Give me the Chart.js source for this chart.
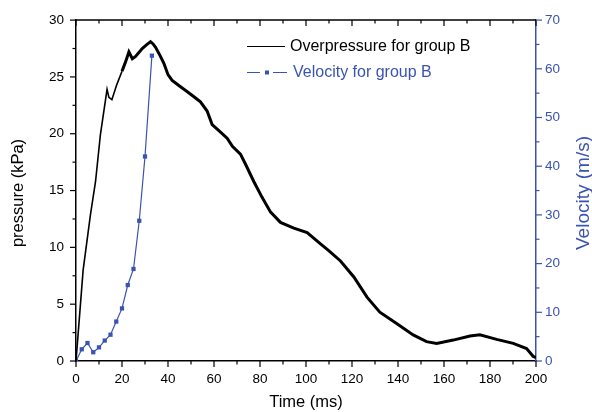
<!DOCTYPE html>
<html>
<head>
<meta charset="utf-8">
<script src="https://cdn.jsdelivr.net/npm/chart.js@4"></script>
<style>
  html, body { margin: 0; padding: 0; background: #fff; }
  #wrap { width: 592px; height: 412px; }
</style>
</head>
<body>
<div id="wrap"><canvas id="chart" width="592" height="412"></canvas></div>
<script>
// ── Data ──────────────────────────────────────────────────────
const pressureTime = [0, 3.1, 6.3, 8.5, 10.6, 13.5, 14.3, 15.6, 17.7, 20, 21.5, 23, 24.5, 25.9, 28.8, 30.5,
  32.4, 33.5, 34.6, 36.5, 38.2, 40, 41.8, 45, 48.4, 51, 54.1, 57, 59.2, 62, 65.7, 68, 71.5, 73.5, 77.3,
  80.9, 84.6, 88.9, 94.7, 100.5, 106.3, 110, 115, 120.8, 126.6, 132.1, 139.4, 146.6, 152.4, 156.8, 164,
  171.3, 175.6, 182.9, 190.1, 195.9, 198.8, 200];
const pressureKPa = [0, 8.0, 12.9, 15.8, 19.9, 23.9, 23.2, 23.0, 24.3, 25.5, 26.3, 27.2, 26.6, 26.8, 27.5, 27.8,
  28.1, 27.9, 27.6, 26.9, 26.2, 25.2, 24.7, 24.2, 23.7, 23.3, 22.8, 22.0, 20.8, 20.3, 19.6, 18.9, 18.2, 17.4, 15.8,
  14.4, 13.1, 12.2, 11.7, 11.3, 10.3, 9.7, 8.8, 7.4, 5.6, 4.3, 3.3, 2.3, 1.7, 1.55, 1.84,
  2.2, 2.3, 1.9, 1.55, 1.1, 0.4, 0.3];

const velocityTime = [0, 2.5, 5, 7.5, 10, 12.5, 15, 17.5, 20, 22.5, 25, 27.5, 30, 33];
const velocityMs   = [0, 2.4, 3.7, 1.8, 2.8, 4.2, 5.4, 8.1, 10.8, 15.6, 18.9, 28.8, 42.0, 62.7];

const legendLabels = ['Overpressure for group B', 'Velocity for group B'];
const axisTitles = { x: 'Time (ms)', y: 'pressure (kPa)', y2: 'Velocity (m/s)' };

// ── Style ─────────────────────────────────────────────────────
const BLUE = '#3a53b0';
const FONT = '"Liberation Sans", Arial, sans-serif';

const toXY = (xs, ys) => xs.map((x, i) => ({ x, y: ys[i] }));

// frame, major/minor ticks, rotated titles and legend
const decorations = {
  id: 'decorations',
  afterDraw(chart) {
    const { ctx, chartArea: a, scales } = chart;
    ctx.save();
    ctx.lineWidth = 1.5;
    ctx.strokeStyle = '#000';

    // top border
    ctx.beginPath();
    ctx.moveTo(a.left - 1, a.top);
    ctx.lineTo(a.right, a.top);
    ctx.stroke();

    ctx.lineWidth = 1.2;
    const x = scales.x;
    for (let v = 0; v <= 200; v += 10) {
      const px = x.getPixelForValue(v);
      const len = v % 20 === 0 ? 6 : 3.5;
      ctx.beginPath();
      ctx.moveTo(px, a.bottom); ctx.lineTo(px, a.bottom + len);
      ctx.moveTo(px, a.top); ctx.lineTo(px, a.top + len);
      ctx.stroke();
    }
    const y = scales.y;
    for (let v = 0; v <= 30; v += 2.5) {
      const py = y.getPixelForValue(v);
      const len = v % 5 === 0 ? 6 : 3.5;
      ctx.beginPath();
      ctx.moveTo(a.left, py); ctx.lineTo(a.left - len, py);
      ctx.stroke();
    }
    ctx.strokeStyle = BLUE;
    const y2 = scales.y2;
    for (let v = 0; v <= 70; v += 5) {
      const py = y2.getPixelForValue(v);
      const len = v % 10 === 0 ? 6 : 3.5;
      ctx.beginPath();
      ctx.moveTo(a.right, py); ctx.lineTo(a.right + len, py);
      ctx.stroke();
    }

    // vertical titles, both reading bottom-to-top
    ctx.textAlign = 'center';
    ctx.textBaseline = 'middle';
    ctx.save();
    ctx.translate(18, 193);
    ctx.rotate(-Math.PI / 2);
    ctx.font = '16.5px ' + FONT;
    ctx.fillStyle = '#000';
    ctx.fillText(axisTitles.y, 0, 0);
    ctx.restore();
    ctx.save();
    ctx.translate(584, 193);
    ctx.rotate(-Math.PI / 2);
    ctx.font = '19px ' + FONT;
    ctx.fillStyle = BLUE;
    ctx.fillText(axisTitles.y2, 0, 0);
    ctx.restore();

    // legend
    ctx.font = '16px ' + FONT;
    ctx.textAlign = 'left';
    ctx.lineWidth = 1;
    ctx.strokeStyle = '#000';
    ctx.beginPath(); ctx.moveTo(247, 46.5); ctx.lineTo(285, 46.5); ctx.stroke();
    ctx.fillStyle = '#000';
    ctx.fillText(legendLabels[0], 290, 47);

    ctx.strokeStyle = BLUE;
    ctx.beginPath();
    ctx.moveTo(247, 72.5); ctx.lineTo(260, 72.5);
    ctx.moveTo(273, 72.5); ctx.lineTo(287, 72.5);
    ctx.stroke();
    ctx.fillStyle = BLUE;
    ctx.fillRect(265, 70.5, 4, 4);
    ctx.fillText(legendLabels[1], 293, 73);
    ctx.restore();
  }
};

new Chart(document.getElementById('chart'), {
  type: 'line',
  data: {
    datasets: [
      {
        label: legendLabels[0],
        data: toXY(pressureTime, pressureKPa),
        yAxisID: 'y',
        borderColor: '#000',
        borderWidth: 2.5,
        pointRadius: 0,
        tension: 0,
        segment: { borderWidth: c => c.p0.parsed.x < 18 ? 1.6 : 3 }
      },
      {
        label: legendLabels[1],
        data: toXY(velocityTime, velocityMs),
        yAxisID: 'y2',
        borderColor: BLUE,
        backgroundColor: BLUE,
        borderWidth: 1.2,
        pointStyle: 'rect',
        pointRadius: 3,
        pointBorderWidth: 0,
        tension: 0
      }
    ]
  },
  options: {
    responsive: false,
    animation: false,
    layout: { padding: { top: 18, right: 0, left: 0, bottom: 0 } },
    plugins: { legend: { display: false }, tooltip: { enabled: false } },
    scales: {
      x: {
        type: 'linear', min: 0, max: 200,
        afterFit: s => { s.height = 51; },
        grid: { display: false, drawTicks: false },
        border: { display: true, color: '#000', width: 1.5 },
        ticks: { stepSize: 20, padding: 10, color: '#000', font: { family: FONT, size: 13.5 } },
        title: { display: true, text: axisTitles.x, color: '#000', padding: { top: 0, bottom: 1 },
                 font: { family: FONT, size: 16.5, lineHeight: 1 } }
      },
      y: {
        position: 'left', min: 0, max: 30,
        afterFit: s => { s.width = 76; },
        grid: { display: false, drawTicks: false },
        border: { display: true, color: '#000', width: 1.5 },
        ticks: { stepSize: 5, padding: 12, color: '#000', font: { family: FONT, size: 13.5 } }
      },
      y2: {
        position: 'right', min: 0, max: 70,
        afterFit: s => { s.width = 56; },
        grid: { display: false, drawTicks: false },
        border: { display: true, color: BLUE, width: 1.5 },
        ticks: { stepSize: 10, padding: 9, color: BLUE, font: { family: FONT, size: 13.5 } }
      }
    }
  },
  plugins: [decorations]
});
</script>
</body>
</html>
